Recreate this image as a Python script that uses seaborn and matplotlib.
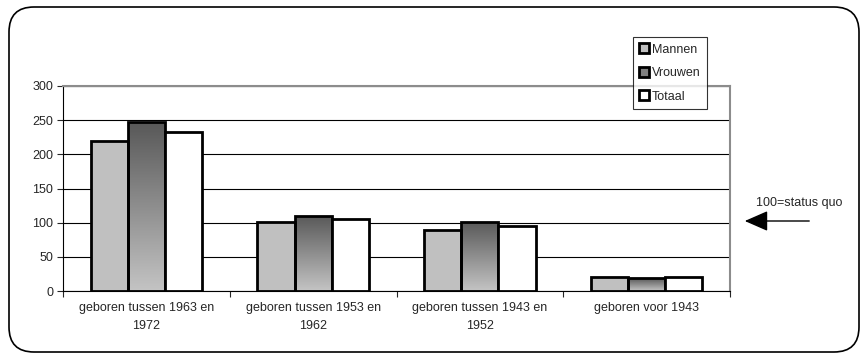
import numpy as np
import pandas as pd
import matplotlib
matplotlib.use("Agg")
import matplotlib.pyplot as plt
import seaborn as sns
from matplotlib.patches import FancyBboxPatch, Patch

categories = ['geboren tussen 1963 en\n1972', 'geboren tussen 1953 en\n1962',
              'geboren tussen 1943 en\n1952', 'geboren voor 1943']
series = ['Mannen', 'Vrouwen', 'Totaal']
mannen = [219, 101, 90, 20]
vrouwen = [247, 110, 101, 19]
totaal = [233, 105, 95, 20]
yticks = [0, 50, 100, 150, 200, 250, 300]

df = pd.DataFrame({
    'cat': categories * 3,
    'serie': [s for s in series for _ in categories],
    'waarde': mannen + vrouwen + totaal,
})

sns.set_style("white")
plt.rcParams['font.family'] = ['Liberation Sans', 'DejaVu Sans']
plt.rcParams['font.size'] = 9

fig = plt.figure(figsize=(8.67, 3.58), dpi=100)
W, H = 867, 358
ax = fig.add_axes([63 / W, (H - 291) / H, (730 - 63) / W, (291 - 86) / H])

# rounded outer frame (inches)
frame = FancyBboxPatch((0.09, 0.06), 8.50, 3.45,
                       boxstyle="round,pad=0,rounding_size=0.25",
                       transform=fig.dpi_scale_trans, facecolor='none',
                       edgecolor='black', linewidth=1.2)
fig.patches.append(frame)

palette = {'Mannen': '#c0c0c0', 'Vrouwen': '#808080', 'Totaal': 'white'}
sns.barplot(data=df, x='cat', y='waarde', hue='serie', palette=palette,
            edgecolor='black', linewidth=2, width=0.67, saturation=1,
            legend=False, ax=ax, zorder=3)

# gradient fill for Vrouwen bars
grad = np.linspace(0, 1, 256).reshape(-1, 1)
cmap = matplotlib.colors.LinearSegmentedColormap.from_list('g', ['#c4c4c4', '#585858'])
for bar in ax.containers[1]:
    x0, y0 = bar.get_x(), bar.get_y()
    w, h = bar.get_width(), bar.get_height()
    bar.set_facecolor('none')
    im = ax.imshow(grad, extent=[x0, x0 + w, y0, y0 + h], origin='lower',
                   cmap=cmap, aspect='auto', zorder=2.5)
    im.set_clip_path(bar)

ax.set_xlim(-0.5, 3.5)
ax.set_ylim(0, 300)
ax.set_yticks(yticks)
ax.set_xlabel('')
ax.set_ylabel('')
ax.set_axisbelow(True)
ax.yaxis.grid(True, color='black', linewidth=0.8)
ax.xaxis.grid(False)
for s in ['top', 'right']:
    ax.spines[s].set_color('#8c8c8c')
    ax.spines[s].set_linewidth(1.5)
for s in ['left', 'bottom']:
    ax.spines[s].set_color('black')
    ax.spines[s].set_linewidth(0.8)
ax.axhline(300, color='#8c8c8c', linewidth=1.5, zorder=4)

# category labels centred, tick marks between categories
ax.set_xticks(range(len(categories)), minor=True)
ax.set_xticklabels(categories, minor=True)
ax.set_xticks([-0.5, 0.5, 1.5, 2.5, 3.5])
ax.set_xticklabels([''] * 5)
ax.tick_params(axis='x', which='major', direction='out', length=4, width=0.8, bottom=True)
ax.tick_params(axis='x', which='minor', length=0, pad=8)
ax.tick_params(axis='y', direction='out', length=4, width=0.8, left=True, pad=3)
for lbl in ax.get_xticklabels(minor=True):
    lbl.set_linespacing(1.6)

handles = [Patch(facecolor=palette[s], edgecolor='black', linewidth=2, label=s)
           for s in series]
leg = fig.legend(handles=handles, loc='upper left',
                 bbox_to_anchor=(633 / W, 1 - 37 / H), frameon=True,
                 fancybox=False, edgecolor='black', handlelength=0.75,
                 handleheight=0.85, handletextpad=0.25, labelspacing=0.9,
                 borderpad=0.5, borderaxespad=0)
leg.get_frame().set_linewidth(0.8)

# status quo arrow
fig.text(756 / W, 1 - 203 / H, '100=status quo', ha='left', va='center')
ax.annotate('', xy=(742 / W, 1 - 221 / H), xytext=(812 / W, 1 - 221 / H),
            xycoords='figure fraction', textcoords='figure fraction',
            arrowprops=dict(arrowstyle='-|>,head_length=1.6,head_width=0.7',
                            color='black', linewidth=1.0), annotation_clip=False)

fig.savefig('out.png', dpi=100)
